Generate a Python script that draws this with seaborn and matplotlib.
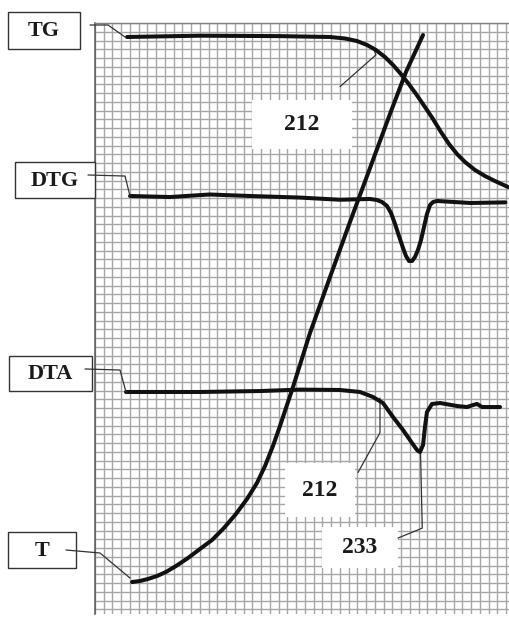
import matplotlib
matplotlib.use("Agg")
import matplotlib.pyplot as plt
from matplotlib.patches import Rectangle
import seaborn as sns

# Traces on chart paper: one unit = one grid square, y measured downward from the top edge
tg_x = [3.66, 12.0, 21.1, 26.86, 28.57, 29.94, 31.09, 32.11, 33.14, 34.06, 34.86, 35.77, 36.69,
        37.71, 38.63, 39.54, 40.46, 41.37, 42.29, 43.43, 44.57, 45.71, 47.2]
tg_y = [1.6, 1.45, 1.5, 1.6, 1.77, 2.06, 2.51, 3.09, 3.89, 4.8, 5.71, 6.86, 8.11,
        9.6, 10.97, 12.46, 13.83, 14.97, 15.89, 16.8, 17.49, 18.06, 18.74]

dtg_x = [4.0, 8.57, 13.1, 17.7, 23.4, 28.0, 31.43, 32.23, 32.8, 33.37, 33.83, 34.29, 34.74, 35.2,
         35.54, 35.89, 36.23, 36.57, 36.91, 37.26, 37.6, 37.94, 38.29, 38.63, 39.09, 42.9, 46.9]
dtg_y = [19.77, 19.89, 19.6, 19.77, 19.95, 20.2, 20.11, 20.23, 20.46, 20.91, 21.71, 22.97, 24.34, 25.71,
         26.63, 27.2, 27.2, 26.74, 25.94, 24.8, 23.31, 21.83, 20.8, 20.46, 20.34, 20.57, 20.5]

dta_x = [3.54, 12.0, 18.9, 23.4, 28.0, 30.29, 31.77, 32.91, 34.06, 35.2, 36.23, 36.8, 37.14, 37.49,
         37.71, 37.94, 38.51, 39.43, 41.37, 42.51, 43.2, 43.66, 44.23, 46.29]
dta_y = [42.17, 42.17, 42.06, 41.9, 41.94, 42.17, 42.74, 43.43, 45.03, 46.51, 48.0, 48.8, 49.03, 48.23,
         46.17, 44.46, 43.54, 43.43, 43.77, 43.89, 43.66, 43.54, 43.89, 43.89]

t_x = [4.23, 5.14, 6.06, 7.09, 8.11, 9.26, 10.63, 12.0, 13.37, 14.74, 16.11, 17.37, 18.51, 19.43,
       20.34, 21.14, 21.94, 22.63, 24.57, 26.86, 29.14, 31.43, 33.71, 35.54, 37.49]
t_y = [63.89, 63.77, 63.54, 63.2, 62.74, 62.06, 61.14, 60.11, 59.09, 57.71, 56.11, 54.4, 52.57, 50.63,
       48.34, 46.06, 43.66, 41.6, 35.43, 29.03, 22.74, 16.57, 10.4, 5.6, 1.37]

# Curve names with their tag boxes (left, top, right, bottom) and leader polylines
curve_names = ["TG", "DTG", "DTA", "T"]
name_boxes = [(-9.94, -1.26, -1.71, 2.97),
              (-9.14, 15.89, 0.0, 20.0),
              (-9.83, 38.06, -0.34, 42.06),
              (-9.94, 58.17, -2.17, 62.29)]
name_leaders = [([-0.57, 1.49, 3.43], [0.23, 0.23, 1.6]),
                ([-0.8, 3.43, 4.0], [17.37, 17.49, 19.77]),
                ([-1.14, 2.86, 3.54], [39.54, 39.66, 42.17]),
                ([-3.31, 0.57, 4.0], [60.23, 60.57, 63.43])]

# Temperature readings (°C) with their white boxes and leaders
temp_labels = ["212", "212", "233"]
temp_boxes = [(17.94, 8.8, 29.37, 14.43),
              (21.71, 50.29, 29.71, 56.46),
              (25.94, 57.6, 34.63, 62.29)]
temp_leaders = [([28.0, 32.11, 31.77], [7.27, 3.64, 2.74]),
                ([30.06, 32.57, 32.57], [51.37, 46.82, 42.86]),
                ([34.63, 37.4, 37.2], [58.86, 57.73, 49.0])]

sns.set_style("white")
plt.rcParams["font.family"] = ["Liberation Serif", "DejaVu Serif"]

fig = plt.figure(figsize=(5.1, 6.18), dpi=100)
ax = fig.add_axes([95 / 510, 4 / 618, 415 / 510, 591 / 618])

W, H = 415 / 8.75, 591 / 8.75
ax.set_xlim(0, W)
ax.set_ylim(H, 0)

# chart paper grid
for gx in range(0, int(W) + 1):
    ax.axvline(gx, color="#a6a6a6", lw=1.0, zorder=0)
for gy in range(0, int(H) + 1):
    ax.axhline(gy, color="#a6a6a6", lw=1.0, zorder=0)
ax.set_xticks([])
ax.set_yticks([])
for side in ["right", "bottom"]:
    ax.spines[side].set_visible(False)
ax.spines["left"].set_color("#555555")
ax.spines["top"].set_color("#808080")
ax.spines["left"].set_linewidth(1.1)
ax.spines["top"].set_linewidth(1.0)

# white boxes for temperature readings
for (l, t, r, b), txt in zip(temp_boxes, temp_labels):
    ax.add_patch(Rectangle((l, t), r - l, b - t, facecolor="white", edgecolor="none", zorder=2))
    ax.text((l + r) / 2, (t + b) / 2, txt, ha="center", va="center",
            fontsize=17, fontweight="bold", color="#1a1a1a", zorder=3)
for lx, ly in temp_leaders:
    ax.plot(lx, ly, color="#333333", lw=0.9, zorder=3, clip_on=False)

# thermal curves
for xs, ys in [(tg_x, tg_y), (dtg_x, dtg_y), (dta_x, dta_y), (t_x, t_y)]:
    sns.lineplot(x=xs, y=ys, sort=False, estimator=None, ax=ax, color="#111111",
                 lw=2.9, zorder=4, solid_capstyle="round", solid_joinstyle="round")

# curve name tags
for (l, t, r, b), name in zip(name_boxes, curve_names):
    ax.add_patch(Rectangle((l, t), r - l, b - t, facecolor="white", edgecolor="#333333",
                           lw=1.0, zorder=5, clip_on=False))
    ax.text((l + r) / 2, (t + b) / 2 + 0.1, name, ha="center", va="center",
            fontsize=16, fontweight="bold", color="#1a1a1a", zorder=6, clip_on=False)
for lx, ly in name_leaders:
    ax.plot(lx, ly, color="#333333", lw=0.9, zorder=6, clip_on=False)

ax.set_xlabel("")
ax.set_ylabel("")
fig.savefig("out.png", dpi=100)
